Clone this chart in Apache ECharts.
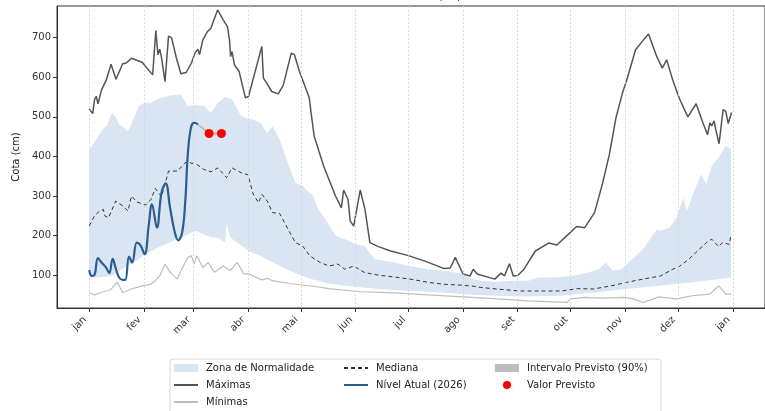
<!DOCTYPE html>
<html>
<head>
<meta charset="utf-8">
<script src="https://cdn.jsdelivr.net/npm/echarts@6/dist/echarts.min.js"></script>
<style>
  html, body { margin: 0; padding: 0; background: #fff; }
  #cotaChart { width: 765px; height: 411px; }
</style>
</head>
<body>
<div id="cotaChart"></div>
<script>
// dia do ano (0 = 1 jan) e cota em cm
var monthDays = [0, 31, 59, 90, 120, 151, 181, 212, 243, 273, 304, 334, 365];
var monthLabels = ['jan', 'fev', 'mar', 'abr', 'mai', 'jun', 'jul', 'ago', 'set', 'out', 'nov', 'dez', 'jan'];
var yTicks = [100, 200, 300, 400, 500, 600, 700];

// Zona de Normalidade - limite superior
var bandHighDays = [0, 2, 4, 7, 10, 13, 15, 17, 19, 22, 25, 28, 31, 35, 39, 43, 47, 52, 56, 60, 65, 69, 73, 77, 81, 86, 90, 93, 97, 101, 104, 108, 112, 114, 117, 121, 127, 130, 134, 140, 145, 151, 156, 162, 168, 173, 182, 192, 201, 210, 216, 222, 231, 240, 249, 255, 264, 274, 283, 289, 293, 297, 302, 305, 310, 314, 318, 322, 324, 329, 333, 337, 339, 342, 347, 350, 353, 357, 361, 364];
var bandHigh = [417, 430, 443, 465, 478, 510, 500, 480, 476, 463, 493, 526, 535, 535, 545, 550, 555, 556, 526, 530, 528, 510, 535, 550, 545, 503, 495, 493, 485, 459, 476, 443, 392, 367, 333, 325, 300, 266, 241, 199, 191, 178, 174, 140, 136, 132, 123, 115, 111, 105, 92, 86, 83, 86, 86, 94, 94, 98, 107, 115, 132, 111, 115, 128, 149, 165, 191, 216, 212, 220, 245, 295, 262, 300, 355, 330, 375, 398, 426, 420];
// Zona de Normalidade - limite inferior
var bandLowDays = [0, 4, 9, 13, 17, 21, 24, 28, 32, 35, 39, 45, 50, 56, 60, 64, 69, 73, 77, 78, 80, 84, 88, 91, 97, 108, 117, 126, 136, 145, 164, 182, 201, 212, 230, 249, 267, 286, 305, 323, 342, 358, 364];
var bandLow = [93, 94, 96, 98, 110, 123, 128, 140, 153, 160, 170, 182, 191, 203, 212, 205, 195, 195, 182, 230, 195, 182, 170, 160, 149, 123, 105, 90, 78, 73, 65, 60, 56, 52, 48, 46, 48, 56, 65, 73, 82, 90, 94];

var maxDays = [0, 2, 3, 4, 5, 7, 9.6, 12.4, 15.2, 19, 21, 24, 30, 36, 37.8, 39, 40, 41, 43, 45, 46.7, 49.5, 52, 55, 58, 60, 61.6, 62.6, 64.4, 67, 69, 72.8, 76, 78.4, 79.6, 80.2, 81, 82.4, 85, 88.6, 90.4, 97.9, 98.8, 100.7, 103.5, 107.2, 110, 114.6, 116.4, 119.2, 124.8, 126, 127.6, 133, 139.7, 143, 144.3, 146.8, 148, 150, 153.7, 156.4, 159.2, 164, 171, 180.6, 190, 201, 204.8, 207.6, 212, 216, 217.8, 220, 230, 233.6, 235.5, 238.3, 240.5, 243, 246.6, 253, 260.6, 265.2, 271.7, 276.4, 281, 286.6, 291.2, 295, 298.7, 302.4, 305.2, 309.8, 313.5, 317.2, 321.9, 325, 327.5, 331.2, 335, 339.5, 344.2, 348, 350.7, 352, 353, 354.4, 355.2, 357.2, 359.5, 361, 362.4, 364.3];
var maxVals = [520, 508, 543, 552, 533, 568, 592, 633, 595, 634, 636, 648, 638, 606, 718, 657, 671, 650, 589, 704, 700, 648, 609, 612, 636, 661, 671, 657, 694, 715, 724, 770, 745, 728, 694, 652, 665, 631, 615, 548, 552, 678, 598, 585, 564, 558, 579, 661, 657, 615, 548, 505, 451, 375, 300, 270, 315, 291, 237, 224, 315, 266, 182, 172, 161, 150, 136, 117, 118, 145, 103, 98, 115, 103, 90, 105, 98, 129, 98, 99, 115, 161, 181, 176, 203, 223, 220, 258, 333, 405, 497, 560, 598, 669, 690, 709, 652, 623, 644, 589, 543, 500, 533, 485, 455, 485, 477, 490, 470, 432, 518, 514, 483, 511];

var medDays = [0, 3, 6, 8, 9, 11, 15, 19, 22, 24, 27, 32, 35, 37.5, 41, 45, 50, 55, 61, 65, 69, 73, 78, 81, 87, 90, 93, 96, 98, 101, 104, 108, 113, 117, 121, 125, 131, 136, 141, 145, 150, 156, 164, 172, 182, 192, 201, 210, 218, 222, 231, 244, 255, 268, 277, 286, 296, 305, 314, 324, 331, 335, 340, 344, 350, 353, 357, 359, 363, 364];
var medVals = [224, 250, 262, 266, 249, 245, 287, 275, 262, 300, 285, 277, 291, 319, 298, 363, 363, 386, 380, 367, 361, 371, 346, 371, 357, 354, 305, 283, 304, 287, 258, 256, 214, 182, 174, 149, 132, 123, 128, 115, 123, 107, 100, 96, 90, 82, 77, 75, 72, 69, 65, 60, 60, 60, 66, 65, 73, 82, 90, 98, 115, 123, 140, 157, 182, 191, 172, 182, 178, 203];

var minDays = [0, 3, 8, 12, 16, 19, 24, 30, 35, 37.5, 40, 43, 46, 50, 52, 56, 58, 59.5, 61, 64.5, 67.5, 71, 76, 80, 84, 87.7, 91, 93, 98, 101, 104, 108, 117, 127, 136, 154, 173, 192, 217, 231, 249, 271, 273, 281, 290, 304, 309, 314, 320, 323, 333, 342, 352, 355, 357, 361, 364];
var minVals = [56, 50, 58, 63, 82, 56, 65, 73, 77, 86, 98, 128, 107, 90, 111, 145, 149, 128, 149, 119, 132, 107, 123, 112, 132, 103, 103, 98, 88, 92, 86, 83, 77, 72, 66, 58, 55, 50, 44, 40, 35, 31, 40, 44, 42, 44, 40, 31, 40, 45, 40, 48, 52, 65, 73, 52, 52];

// Nível Atual (2026)
var atualDays = [0, 1.5, 3, 5, 7, 9.6, 11.4, 13.3, 15.2, 17, 19, 20.5, 22.6, 24.4, 27, 29, 31.5, 33.7, 35.6, 38.4, 41, 43.4, 45.8, 48.6, 50.5, 52.7, 54.5, 56, 57.9, 59.8, 61.6];
var atualVals = [113, 98, 100, 143, 132, 119, 105, 141, 115, 94, 88, 88, 147, 132, 182, 176, 153, 224, 279, 220, 308, 332, 272, 207, 188, 207, 287, 410, 476, 485, 481];

// previsão
var prevDays = [61.6, 68, 75];
var prevLow = [478, 455, 455];
var prevHigh = [484, 461, 461];
var prevPontoDays = [68, 75];
var prevPontoVals = [458, 458];

var fontFam = 'DejaVu Sans';

function pairs(xs, ys) {
  var out = [];
  for (var i = 0; i < xs.length; i++) out.push([xs[i], ys[i]]);
  return out;
}

// polígono entre dois contornos, via escalas do eixo
function bandRender(hDays, hVals, lDays, lVals) {
  return function (params, api) {
    if (params.dataIndex !== 0) return;
    var pts = [];
    for (var i = 0; i < hDays.length; i++) pts.push(api.coord([hDays[i], hVals[i]]));
    for (var j = lDays.length - 1; j >= 0; j--) pts.push(api.coord([lDays[j], lVals[j]]));
    return {
      type: 'polygon',
      shape: { points: pts },
      style: { fill: api.visual('color') }
    };
  };
}

// item de legenda só com a linha (sem marcador)
function lineItem(name) {
  return { name: name, itemStyle: { color: 'rgba(0,0,0,0)', borderColor: 'rgba(0,0,0,0)', borderWidth: 0 } };
}

var legendCommon = {
  orient: 'vertical',
  padding: 0,
  itemWidth: 24,
  itemHeight: 8,
  itemGap: 5,
  selectedMode: false,
  textStyle: { fontFamily: fontFam, fontSize: 10, color: '#222', lineHeight: 12, padding: [0, 0, 0, 3] }
};

var options = {
  animation: false,
  backgroundColor: '#fff',
  graphic: [
    {
      type: 'text',
      x: 417, y: 3,
      style: { text: 'Atualizado em 03/03/2026', fontFamily: fontFam, fontSize: 11, fill: '#333', align: 'center', verticalAlign: 'bottom' }
    },
    {
      type: 'rect',
      shape: { x: 170, y: 359, width: 491, height: 60, r: 3 },
      style: { fill: '#fff', stroke: '#d5d5d5', lineWidth: 1 },
      z: -1
    }
  ],
  grid: {
    left: 57, right: -12, top: 6, bottom: 103,
    show: true, borderColor: '#333', borderWidth: 1, backgroundColor: 'transparent'
  },
  legend: [
    Object.assign({ left: 173, top: 362, data: [{ name: 'Zona de Normalidade', icon: 'rect' }, lineItem('Máximas'), lineItem('Mínimas')] }, legendCommon),
    Object.assign({ left: 343, top: 362, data: [lineItem('Mediana'), lineItem('Nível Atual (2026)')] }, legendCommon),
    Object.assign({ left: 495, top: 362, data: [{ name: 'Intervalo Previsto (90%)', icon: 'rect' }, { name: 'Valor Previsto', icon: 'circle' }] }, legendCommon)
  ],
  xAxis: {
    type: 'value',
    min: -18.25,
    max: 383.25,
    axisLine: { show: true, onZero: false, lineStyle: { color: '#333', width: 1 } },
    axisTick: { show: true, length: 4, customValues: monthDays, lineStyle: { color: '#333' } },
    axisLabel: {
      customValues: monthDays,
      rotate: 45,
      margin: 6,
      padding: [0, 6, 0, 0],
      fontFamily: fontFam,
      fontSize: 10,
      color: '#333',
      formatter: function (v) {
        var k = monthDays.indexOf(v);
        return k < 0 ? '' : monthLabels[k];
      }
    },
    splitLine: { show: false }
  },
  yAxis: {
    type: 'value',
    min: 17,
    max: 780,
    name: 'Cota (cm)',
    nameLocation: 'middle',
    nameGap: 33,
    nameTextStyle: { fontFamily: fontFam, fontSize: 10, color: '#222' },
    axisLine: { show: true, onZero: false, lineStyle: { color: '#333', width: 1 } },
    axisTick: { show: true, length: 4, customValues: yTicks, lineStyle: { color: '#333' } },
    axisLabel: { customValues: yTicks, margin: 6, fontFamily: fontFam, fontSize: 10, color: '#333' },
    splitLine: { show: false }
  },
  series: [
    {
      name: 'Zona de Normalidade',
      type: 'custom',
      clip: true,
      itemStyle: { color: '#d9e5f3' },
      data: [[0, bandHigh[0]]],
      renderItem: bandRender(bandHighDays, bandHigh, bandLowDays, bandLow),
      z: 1
    },
    {
      name: 'Máximas',
      type: 'line',
      symbol: 'none',
      data: pairs(maxDays, maxVals),
      lineStyle: { color: '#555', width: 1.5 },
      itemStyle: { color: '#555' },
      z: 3
    },
    {
      name: 'Mínimas',
      type: 'line',
      symbol: 'none',
      data: pairs(minDays, minVals),
      lineStyle: { color: '#bdbdbd', width: 1.2 },
      itemStyle: { color: '#bdbdbd' },
      // grade vertical nos inícios de mês
      markLine: {
        silent: true,
        symbol: ['none', 'none'],
        label: { show: false },
        lineStyle: { color: '#d4d4d4', type: [2, 2], width: 0.8 },
        emphasis: { disabled: true },
        data: monthDays.map(function (d) { return { xAxis: d }; })
      },
      z: 2
    },
    {
      name: 'Mediana',
      type: 'line',
      symbol: 'none',
      data: pairs(medDays, medVals),
      lineStyle: { color: '#333', width: 1, type: [4, 3] },
      itemStyle: { color: '#333' },
      z: 4
    },
    {
      name: 'Nível Atual (2026)',
      type: 'line',
      symbol: 'none',
      smooth: 0.4,
      data: pairs(atualDays, atualVals),
      lineStyle: { color: '#2b5d8e', width: 2.2 },
      itemStyle: { color: '#2b5d8e' },
      z: 5
    },
    {
      name: 'Intervalo Previsto (90%)',
      type: 'custom',
      clip: true,
      itemStyle: { color: '#bdbdbd' },
      data: [[prevDays[0], prevHigh[0]]],
      renderItem: bandRender(prevDays, prevHigh, prevDays, prevLow),
      z: 5
    },
    {
      name: 'Valor Previsto',
      type: 'scatter',
      symbol: 'circle',
      symbolSize: 9,
      data: pairs(prevPontoDays, prevPontoVals),
      itemStyle: { color: '#ff0000', opacity: 1 },
      z: 6
    }
  ]
};

var chart = echarts.init(document.getElementById('cotaChart'));
chart.setOption(options);
</script>
</body>
</html>
